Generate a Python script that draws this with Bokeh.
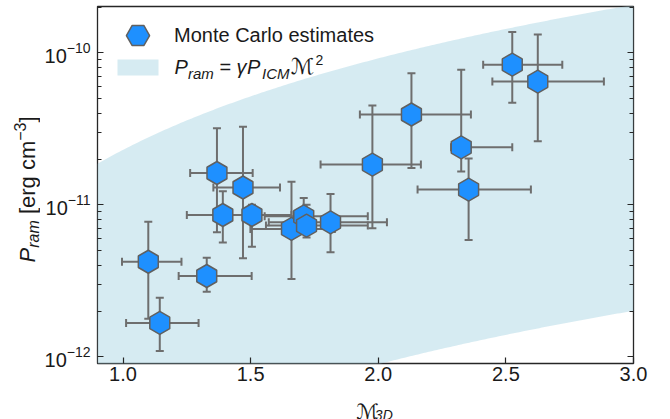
import numpy as np
from bokeh.plotting import figure
from bokeh.layouts import row, column
from bokeh.models import (Range1d, FixedTicker, LogAxis, Label, BoxAnnotation,
                          Legend, LegendItem, NumeralTickFormatter, LogTickFormatter,
                          CustomJSTickFormatter)
from bokeh.embed import file_html
from bokeh.resources import INLINE

# ---------------- data ----------------
mach = [1.099, 1.144, 1.328, 1.368, 1.391, 1.470, 1.505, 1.660, 1.708, 1.719,
        1.813, 1.977, 2.130, 2.325, 2.354, 2.525, 2.625]
mach_lo = [0.996, 1.012, 1.218, 1.263, 1.250, 1.354, 1.370, 1.499, 1.555, 1.560,
           1.571, 1.774, 1.928, 2.285, 2.154, 2.411, 2.447]
mach_hi = [1.229, 1.296, 1.504, 1.508, 1.520, 1.615, 1.660, 1.830, 1.959, 1.959,
           2.034, 2.167, 2.363, 2.525, 2.598, 2.721, 2.884]
p_ram = [4.22e-12, 1.67e-12, 3.40e-12, 1.62e-11, 8.57e-12, 1.30e-11, 8.57e-12,
         6.94e-12, 8.40e-12, 7.30e-12, 7.67e-12, 1.84e-11, 3.93e-11, 2.39e-11,
         1.26e-11, 8.37e-11, 6.47e-11]
p_lo = [1.78e-12, 1.09e-12, 2.68e-12, 6.59e-12, 5.66e-12, 4.45e-12, 5.30e-12,
        3.25e-12, 6.70e-12, 6.10e-12, 4.87e-12, 7.00e-12, 1.75e-11, 1.66e-11,
        5.87e-12, 4.69e-11, 2.62e-11]
p_hi = [7.75e-12, 2.45e-12, 4.49e-12, 3.19e-11, 1.23e-11, 3.27e-11, 1.00e-11,
        1.42e-11, 1.11e-11, 1.00e-11, 1.18e-11, 4.50e-11, 7.35e-11, 7.76e-11,
        2.02e-11, 1.37e-10, 1.32e-10]

# band  P_ram = gamma * P_ICM * M^2  (lower / upper gamma*P_ICM)
gamma_picm_low = 2.23e-13
gamma_picm_high = 2.30e-11

x_ticks = [1.0, 1.5, 2.0, 2.5, 3.0]
y_ticks = [1e-12, 1e-11, 1e-10]

# ---------------- layout geometry (canvas px) ----------------
W, H = 670, 419
FL, FT, FW, FH = 97, 6, 536, 357   # plot frame in the whole canvas
LW = 40                            # strip at left for the y-axis title
BH = 20                            # strip at bottom for the x-axis title
FB = FT + FH
TXT = "#1a1a1a"
DESC = 0.21                        # baseline correction (fraction of font size)

p = figure(width=W - LW, height=H - BH, frame_width=FW, frame_height=FH,
           y_axis_type="log", x_range=Range1d(0.9, 3.0),
           y_range=Range1d(9.03e-13, 2.02e-10),
           output_backend="svg", toolbar_location=None,
           min_border_left=FL - LW, min_border_right=W - FL - FW,
           min_border_top=FT, min_border_bottom=H - BH - FB)
p.grid.visible = False
p.background_fill_color = "white"
p.border_fill_color = "white"
p.outline_line_color = "#262626"
p.outline_line_width = 1.3

minor = [k * 10.0 ** e for e in range(-13, -9) for k in range(2, 10)]
yticker = FixedTicker(ticks=y_ticks, minor_ticks=minor)
xticker = FixedTicker(ticks=x_ticks, minor_ticks=[])

for ax in p.xaxis:
    ax.ticker = xticker
    ax.formatter = NumeralTickFormatter(format="0.0")
for ax in p.yaxis:
    ax.ticker = yticker
    ax.formatter = LogTickFormatter()
for ax in list(p.xaxis) + list(p.yaxis):
    ax.axis_label = None
    ax.axis_line_color = None
    ax.major_tick_in = 6
    ax.major_tick_out = 0
    ax.minor_tick_in = 4
    ax.minor_tick_out = 0
    ax.major_tick_line_color = "#262626"
    ax.minor_tick_line_color = "#262626"
    ax.major_tick_line_width = 1.2
    ax.major_label_text_font = "Liberation Sans"
    ax.major_label_text_font_size = "20px"
    ax.major_label_text_color = TXT
p.xaxis.major_label_standoff = 3
p.yaxis.major_label_standoff = 7

right = LogAxis(ticker=yticker, axis_line_color=None, major_tick_in=6,
                major_tick_out=0, minor_tick_in=4, minor_tick_out=0,
                major_tick_line_color="#262626", minor_tick_line_color="#262626",
                formatter=CustomJSTickFormatter(code="return ''"),
                major_label_standoff=0, axis_label=None)
p.add_layout(right, "right")

# band
mgrid = np.linspace(0.9, 3.0, 200)
band = p.varea(x=mgrid, y1=gamma_picm_low * mgrid ** 2,
               y2=gamma_picm_high * mgrid ** 2,
               fill_color="#add8e6", fill_alpha=0.5)

BAR = "#6e6e6e"
p.segment(x0=mach_lo, y0=p_ram, x1=mach_hi, y1=p_ram, line_color=BAR, line_width=2)
p.segment(x0=mach, y0=p_lo, x1=mach, y1=p_hi, line_color=BAR, line_width=2)
p.scatter(x=mach, y=p_lo, marker="dash", size=8, line_color=BAR, line_width=2)
p.scatter(x=mach, y=p_hi, marker="dash", size=8, line_color=BAR, line_width=2)
p.scatter(x=mach_lo, y=p_ram, marker="dash", size=8, angle=np.pi / 2,
          line_color=BAR, line_width=2)
p.scatter(x=mach_hi, y=p_ram, marker="dash", size=8, angle=np.pi / 2,
          line_color=BAR, line_width=2)

hexr = p.scatter(x=mach, y=p_ram, marker="hex", size=23, angle=np.pi / 2,
                 fill_color="#1e90ff", line_color="#606060", line_width=1.5)

# legend: first entry (marker)
leg = Legend(items=[LegendItem(label="Monte Carlo estimates", renderers=[hexr])],
             location=(4, FH - 58), padding=0, margin=0, spacing=0,
             glyph_width=73, glyph_height=58, label_standoff=0,
             border_line_color=None, background_fill_alpha=0,
             label_text_font="Liberation Sans", label_text_font_size="20px",
             label_text_color=TXT)
p.add_layout(leg)


def flab(cx, cy, text, size=20, style="normal", font="Liberation Sans"):
    """label inside the frame; (cx, cy) = wanted baseline start in canvas px"""
    cy = cy - DESC * size
    p.add_layout(Label(x=cx - FL, y=FB - cy, x_units="screen", y_units="screen",
                       text=text, text_font=font, text_font_size=f"{size}px",
                       text_font_style=style, text_color=TXT,
                       text_baseline="alphabetic", text_align="left"))


# legend: second entry (band patch + formula)
p.add_layout(BoxAnnotation(left=117 - FL, right=158 - FL, top=FB - 59, bottom=FB - 75,
                           left_units="screen", right_units="screen",
                           top_units="screen", bottom_units="screen",
                           fill_color="#add8e6", fill_alpha=0.5, line_color=None))
flab(174, 70.5, "P", style="italic")
flab(187.5, 76.5, "ram", size=15, style="italic")
flab(219, 70.5, "=")
flab(236, 70.5, "γ", style="italic")
flab(246.5, 70.5, "P", style="italic")
flab(261.5, 76.5, "ICM", size=15, style="italic")
flab(290, 70.5, "ℳ", size=22, font="DejaVu Sans")
flab(315, 62.5, "2", size=14)


# ---------------- strips holding the axis titles ----------------
def strip(w, h, x0, y0):
    f = figure(width=w, height=h, x_range=Range1d(x0, x0 + w),
               y_range=Range1d(y0 + h, y0), min_border=0,
               x_axis_location=None, y_axis_location=None,
               output_backend="svg", toolbar_location=None)
    f.outline_line_color = None
    f.grid.visible = False
    f.background_fill_color = "white"
    f.border_fill_color = "white"
    return f


def slab(f, cx, cy, text, size=20, style="normal", font="Liberation Sans", rotated=False):
    """(cx, cy) = wanted baseline start in canvas px"""
    if rotated:
        cx = cx - DESC * size
    else:
        cy = cy - DESC * size
    f.add_layout(Label(x=cx, y=cy, text=text, text_font=font,
                       text_font_size=f"{size}px", text_font_style=style,
                       text_color=TXT, text_baseline="alphabetic", text_align="left",
                       angle=np.pi / 2 if rotated else 0.0))


left = strip(LW, H, 0, 0)
slab(left, 31.5, 262, "P", size=22, style="italic", rotated=True)
slab(left, 36.5, 247.3, "ram", size=16, style="italic", rotated=True)
slab(left, 31.5, 213.6, "[erg cm", size=22, rotated=True)
slab(left, 23.0, 140.3, "−3", size=16, rotated=True)
slab(left, 31.5, 122.1, "]", size=22, rotated=True)

bottom = strip(W - LW, BH, LW, H - BH)
slab(bottom, 344.5, 415.5, "ℳ", size=21, font="DejaVu Sans")
slab(bottom, 366, 417, "3D", size=14, style="italic")

layout = row(left, column(p, bottom))
open("out.html", "w").write(file_html(layout, INLINE))
